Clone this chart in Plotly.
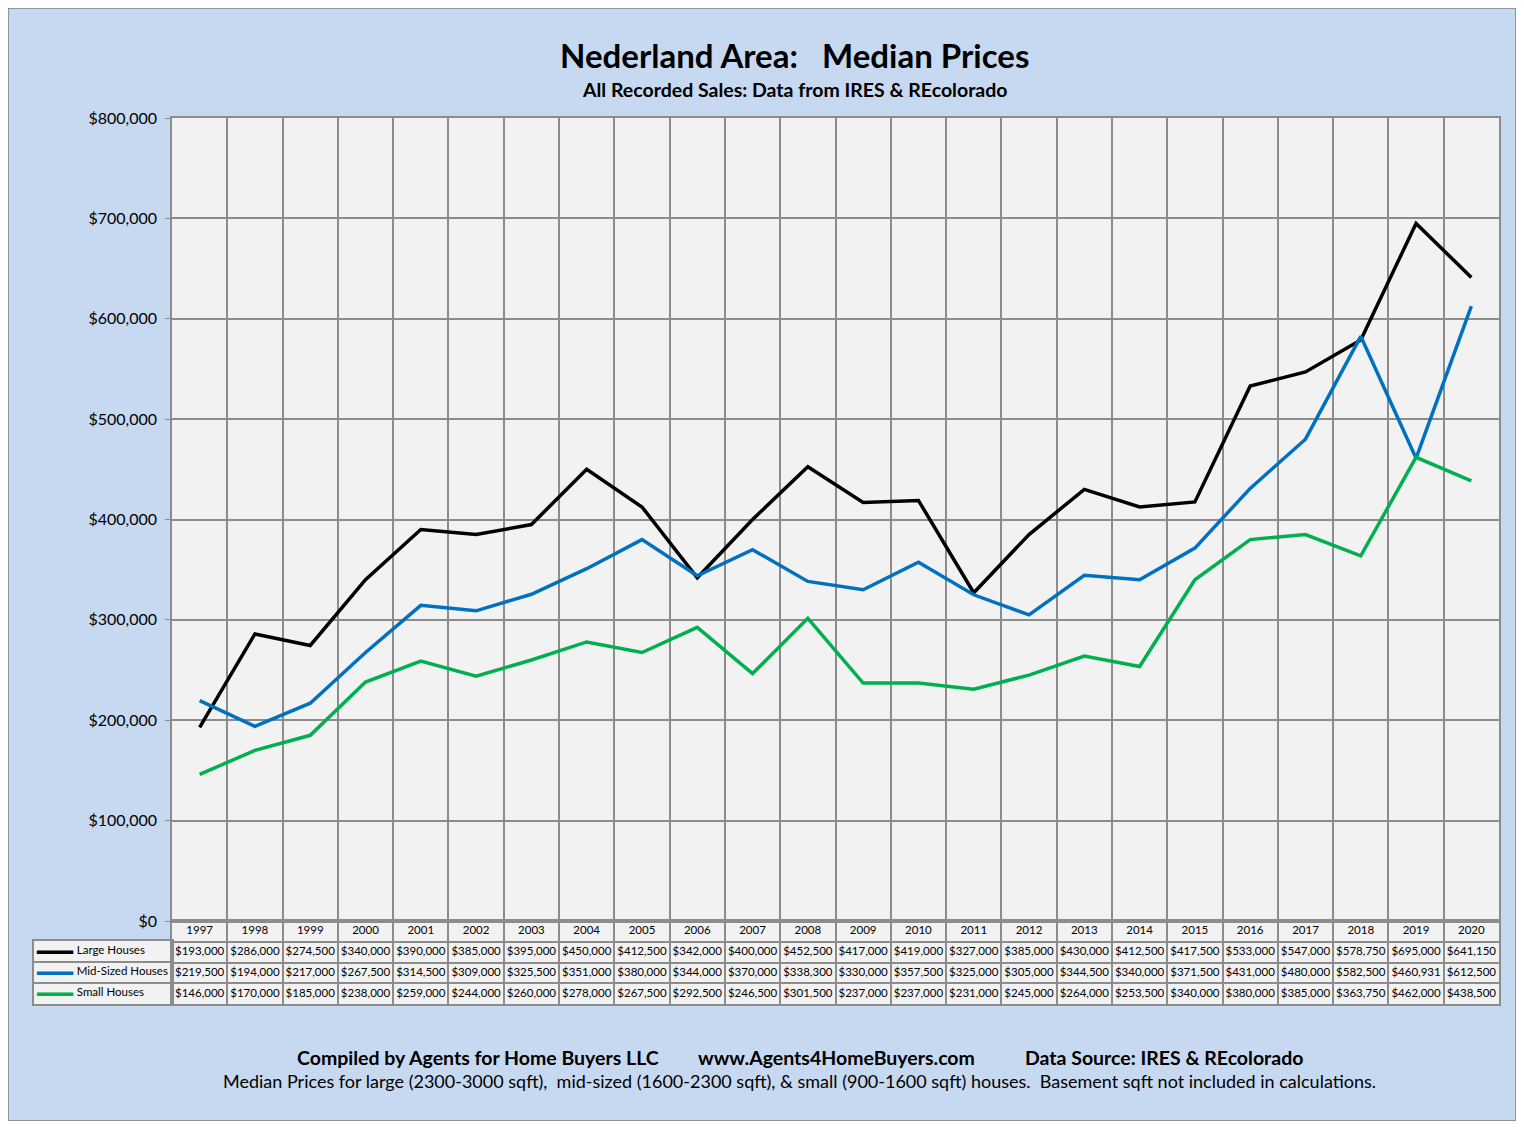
import plotly.graph_objects as go

years = ["1997", "1998", "1999", "2000", "2001", "2002", "2003", "2004",
         "2005", "2006", "2007", "2008", "2009", "2010", "2011", "2012",
         "2013", "2014", "2015", "2016", "2017", "2018", "2019", "2020"]

large = [193000, 286000, 274500, 340000, 390000, 385000, 395000, 450000,
         412500, 342000, 400000, 452500, 417000, 419000, 327000, 385000,
         430000, 412500, 417500, 533000, 547000, 578750, 695000, 641150]
mid = [219500, 194000, 217000, 267500, 314500, 309000, 325500, 351000,
       380000, 344000, 370000, 338300, 330000, 357500, 325000, 305000,
       344500, 340000, 371500, 431000, 480000, 582500, 460931, 612500]
small = [146000, 170000, 185000, 238000, 259000, 244000, 260000, 278000,
         267500, 292500, 246500, 301500, 237000, 237000, 231000, 245000,
         264000, 253500, 340000, 380000, 385000, 363750, 462000, 438500]

series_names = ["Large Houses", "Mid-Sized Houses", "Small Houses"]
series_values = [large, mid, small]
series_colors = ["#000000", "#0070C0", "#00B050"]

# the page body has an 8px margin, so the figure is shrunk and shifted by it
PAD = 8
W, H = 1524 - 2 * PAD, 1129 - 2 * PAD
FONT = "Lato"
BG = "#C6D9F1"
GRID = "#8C8C8C"


def fx(p):
    return (p - PAD) / W


def fy(p):
    return 1 - (p - PAD) / H


fig = go.Figure()

for name, vals, col in zip(series_names, series_values, series_colors):
    fig.add_trace(go.Scatter(x=years, y=vals, mode="lines", name=name,
                             line=dict(color=col, width=3.5),
                             xaxis="x", yaxis="y", showlegend=False))

# data table under the chart: year row + one row per series
fig.add_trace(go.Scatter(x=years, y=[3.5] * len(years), mode="text", text=years,
                         textfont=dict(size=11.5, color="black", family=FONT),
                         xaxis="x2", yaxis="y2", showlegend=False, hoverinfo="skip"))
for r, vals in enumerate(series_values):
    fig.add_trace(go.Scatter(x=years, y=[2.5 - r] * len(years), mode="text",
                             text=[f"${v:,}" for v in vals],
                             textfont=dict(size=11.5, color="black", family=FONT),
                             xaxis="x2", yaxis="y2", showlegend=False,
                             hoverinfo="skip"))

# legend column of the table
fig.add_trace(go.Scatter(x=[0.31] * 3, y=[2.5, 1.5, 0.5], mode="text",
                         text=series_names, textposition="middle right",
                         textfont=dict(size=11.5, color="black", family=FONT),
                         xaxis="x3", yaxis="y3", showlegend=False, hoverinfo="skip"))

annotations = []
for r, col in enumerate(series_colors):
    annotations.append(dict(x=0.155, y=2.5 - r, xref="x3", yref="y3", text="━━━",
                            showarrow=False, xanchor="center", yanchor="middle",
                            font=dict(size=20, color=col, family="DejaVu Sans")))


def label(xp, yp, text, size):
    return dict(x=fx(xp), y=fy(yp), xref="paper", yref="paper", text=text,
                showarrow=False, xanchor="center", yanchor="middle",
                font=dict(size=size, color="black", family=FONT))


annotations += [
    label(794, 55, "<b>Nederland Area:\u00a0\u00a0 Median Prices</b>", 33),
    label(794, 89, "<b>All Recorded Sales: Data from IRES & REcolorado</b>", 19.5),
    label(478, 1057, "<b>Compiled by Agents for Home Buyers LLC</b>", 19.5),
    label(836, 1057, "<b>www.Agents4HomeBuyers.com</b>", 19.5),
    label(1164, 1057, "<b>Data Source: IRES & REcolorado</b>", 19.5),
    label(800, 1081, "Median Prices for large (2300-3000 sqft),\u00a0 mid-sized "
                     "(1600-2300 sqft), & small (900-1600 sqft) houses.\u00a0 "
                     "Basement sqft not included in calculations.", 18),
]

frame = dict(showline=True, linecolor=GRID, linewidth=1.5, mirror=True)
cat_range = [-0.5, len(years) - 0.5]

fig.update_layout(
    width=W, height=H,
    margin=dict(l=0, r=0, t=0, b=0, autoexpand=False),
    paper_bgcolor=BG,
    plot_bgcolor="#F2F2F2",
    font=dict(family=FONT, color="black"),
    annotations=annotations,
    xaxis=dict(domain=[fx(172), fx(1499)], type="category", range=cat_range,
               tickson="boundaries", showgrid=True, gridcolor=GRID, gridwidth=1.5,
               showticklabels=False, ticks="", anchor="y", **frame),
    yaxis=dict(domain=[fy(921), fy(118)], range=[0, 800000], dtick=100000,
               tickprefix="$", tickformat=",", showgrid=True, gridcolor=GRID,
               gridwidth=1.5, zeroline=False, ticks="outside", ticklen=5,
               tickcolor=GRID, tickfont=dict(size=16, color="black"),
               ticklabelstandoff=5, anchor="x", **frame),
    xaxis2=dict(domain=[fx(172), fx(1499)], type="category", range=cat_range,
                tickson="boundaries", showgrid=True, gridcolor=GRID, gridwidth=1.5,
                showticklabels=False, ticks="", anchor="y2", **frame),
    yaxis2=dict(domain=[fy(1004), fy(921)], range=[0, 4], tickvals=[1, 2, 3],
                showgrid=True, gridcolor=GRID, gridwidth=1.5, showticklabels=False,
                zeroline=False, anchor="x2", **frame),
    xaxis3=dict(domain=[fx(34), fx(172)], range=[0, 1], showgrid=False,
                showticklabels=False, zeroline=False, anchor="y3", **frame),
    yaxis3=dict(domain=[fy(1004), fy(941)], range=[0, 3], tickvals=[1, 2],
                showgrid=True, gridcolor=GRID, gridwidth=1.5, showticklabels=False,
                zeroline=False, anchor="x3", **frame),
    shapes=[dict(type="rect", xref="paper", yref="paper", x0=0, x1=1, y0=0, y1=1,
                 line=dict(color="#7F7F7F", width=1.5), layer="below")],
)

fig.write_html("out.html")
